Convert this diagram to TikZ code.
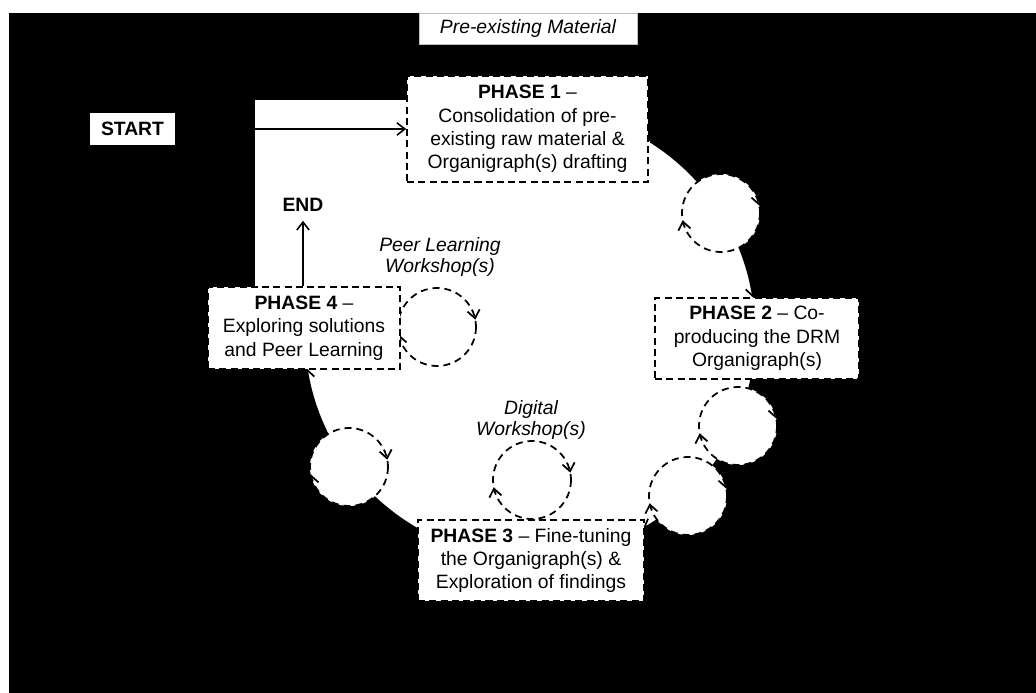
\documentclass[tikz,border=0pt]{standalone}
\usepackage{fontspec}
\setmainfont{Liberation Sans}
\usetikzlibrary{arrows.meta,decorations.markings}

\begin{document}
\begin{tikzpicture}[x=0.02cm, y=-0.02cm,
  txt/.style={font=\fontsize{11}{13.3}\selectfont, align=center},
  phase/.style={txt, draw, fill=white, line width=1pt, dash pattern=on 4pt off 2.4pt, inner sep=0pt},
  wslabel/.style={align=center, font=\fontsize{11}{12.5}\selectfont\itshape},
  flowarrow/.style={line width=0.9pt, -{Straight Barb[length=4.5pt,width=7pt]}},
  wsloop/.style={draw, fill=white, line width=1pt, dash pattern=on 4pt off 2.8pt,
    postaction={decorate}, decoration={markings,
      mark=at position 0.47 with {\arrow[solid]{Straight Barb[length=4.5pt,width=7pt]}},
      mark=at position 0.97 with {\arrow[solid]{Straight Barb[length=4.5pt,width=7pt]}}}}]
\useasboundingbox (0,0) rectangle (1036,693);
\fill[white] (0,0) rectangle (1036,693);
\fill[black] (9,13) rectangle (1036,693);
\fill[white] (255,100) rectangle (530,333);
\coordinate (hub) at (530,333);
\fill[white] (hub) circle[radius=226];

\draw[flowarrow, line width=1pt] ([shift={(-57.8:226)}]hub) arc[start angle=-57.8, end angle=-9, radius=226];
\draw[flowarrow, line width=1pt] ([shift={(12:226)}]hub) arc[start angle=12, end angle=60, radius=226];
\draw[flowarrow, line width=1pt] ([shift={(119.7:226)}]hub) arc[start angle=119.7, end angle=171, radius=226];

\coordinate (lp1) at (721,213);
\coordinate (lp2) at (738,426);
\coordinate (lp3) at (688,496);
\coordinate (lp4) at (532,480);
\coordinate (lp5) at (349,467);
\coordinate (lp6) at (437,327);
\draw[wsloop] (lp1) circle[radius=39];
\draw[wsloop] (lp2) circle[radius=39];
\draw[wsloop] (lp3) circle[radius=39];
\draw[wsloop] (lp4) circle[radius=39];
\draw[wsloop] (lp5) circle[radius=39];
\draw[wsloop] (lp6) circle[radius=39];

\node[phase, minimum width=4.82cm, minimum height=2.12cm] (p1) at (527.5,129) {\textbf{PHASE 1} –\\Consolidation of pre-\\existing raw material \&\\Organigraph(s) drafting};
\node[phase, minimum width=4.08cm, minimum height=1.62cm] (p2) at (757,338.5) {\textbf{PHASE 2} – Co-\\producing the DRM\\Organigraph(s)};
\node[phase, minimum width=4.52cm, minimum height=1.62cm] (p3) at (531,560.5) {\textbf{PHASE 3} – Fine-tuning\\the Organigraph(s) \&\\Exploration of findings};
\node[phase, minimum width=3.84cm, minimum height=1.64cm] (p4) at (304,328) {\textbf{PHASE 4} –\\Exploring solutions\\and Peer Learning};

\node[txt, fill=white, minimum width=1.7cm, minimum height=0.64cm, inner sep=0pt, font=\fontsize{11}{13.3}\selectfont\bfseries] (start) at (132.5,129) {START};
\node[txt, inner sep=5pt, font=\fontsize{11}{13.3}\selectfont\bfseries] (fin) at (303,205) {END};
\node[wslabel, draw=gray!50, line width=0.4pt, fill=white, minimum width=4.36cm, minimum height=0.62cm] (premat) at (528,28.5) {Pre-existing Material};
\node[wslabel] (peer) at (440,257) {Peer Learning\\Workshop(s)};
\node[wslabel] (digi) at (531,420) {Digital\\Workshop(s)};

\draw[flowarrow] (start) -- (start -| p1.west);
\draw[flowarrow] (p4.north -| fin) -- (fin);
\end{tikzpicture}
\end{document}
